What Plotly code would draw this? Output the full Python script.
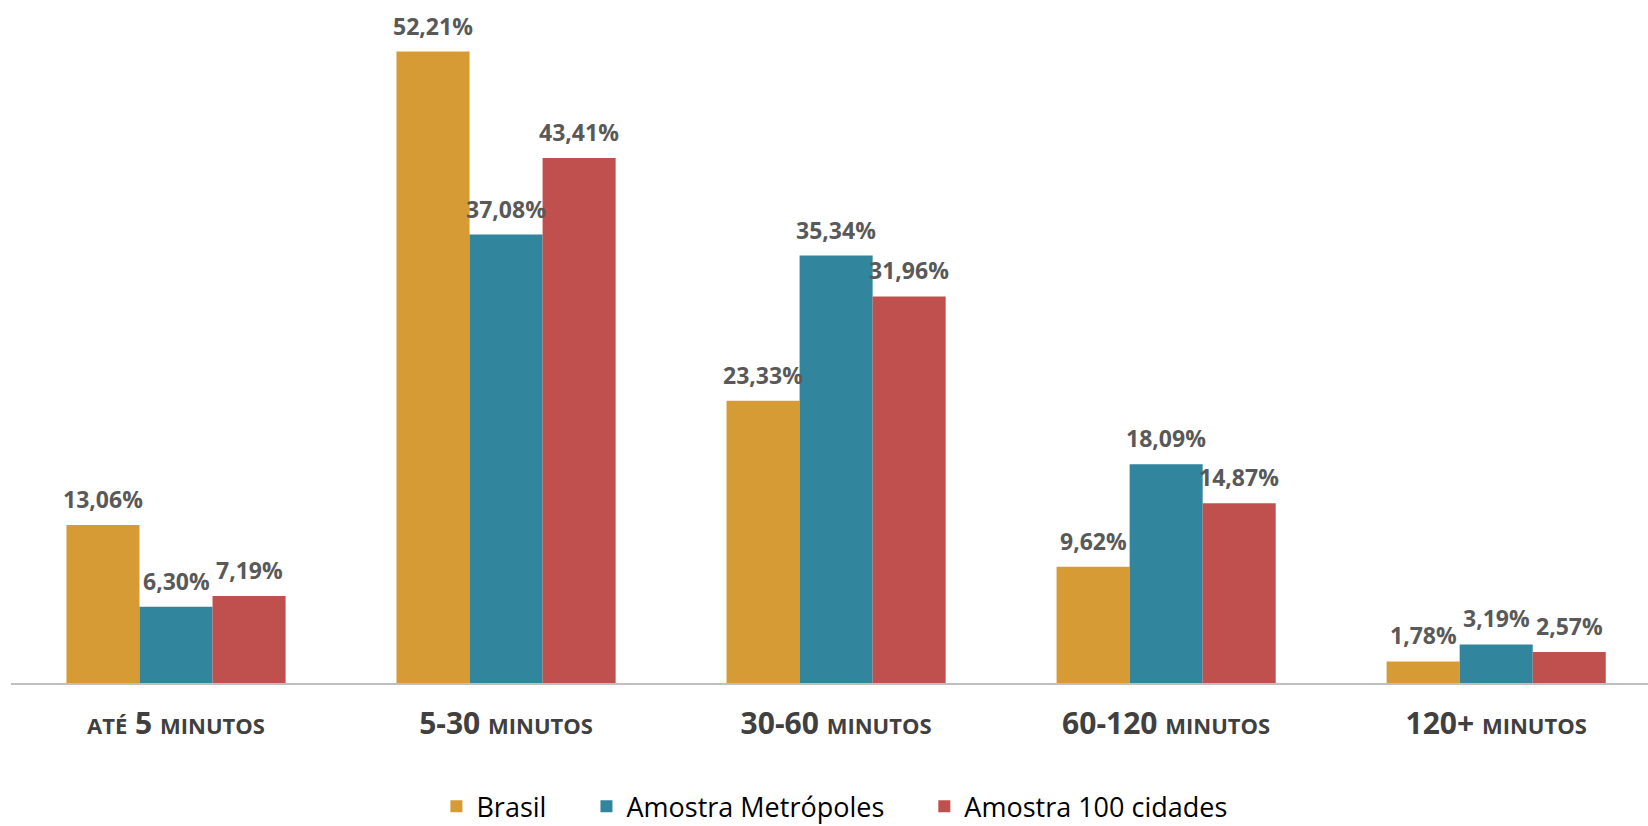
import plotly.graph_objects as go

# data
categories = ["ATÉ 5 MINUTOS", "5-30 MINUTOS", "30-60 MINUTOS", "60-120 MINUTOS", "120+ MINUTOS"]
tick_labels = [
    "<b><span style='font-size:22px'>ATÉ</span> 5 <span style='font-size:22px'>MINUTOS</span></b>",
    "<b>5-30 <span style='font-size:22px'>MINUTOS</span></b>",
    "<b>30-60 <span style='font-size:22px'>MINUTOS</span></b>",
    "<b>60-120 <span style='font-size:22px'>MINUTOS</span></b>",
    "<b>120+ <span style='font-size:22px'>MINUTOS</span></b>",
]
series_names = ["Brasil", "Amostra Metrópoles", "Amostra 100 cidades"]
brasil = [13.06, 52.21, 23.33, 9.62, 1.78]
metropoles = [6.30, 37.08, 35.34, 18.09, 3.19]
cidades100 = [7.19, 43.41, 31.96, 14.87, 2.57]
colors = ["#D69B35", "#31859C", "#C0504D"]

series = [brasil, metropoles, cidades100]
bar_px = 73  # approx pixel width of one bar, used to put labels over each bar
pad = "&nbsp;" * 5  # extra room between legend entries

fig = go.Figure()
annotations = []
for k, (name, vals, col) in enumerate(zip(series_names, series, colors)):
    fig.add_trace(go.Bar(x=categories, y=vals,
                         name=name + (pad if k < 2 else ""),
                         marker=dict(color=col, line=dict(width=0))))
    for cat, v in zip(categories, vals):
        annotations.append(dict(
            x=cat, y=v, xref="x", yref="y",
            text="<b>" + f"{v:.2f}".replace(".", ",") + "%</b>",
            showarrow=False, yanchor="middle", yshift=26,
            xshift=(k - 1) * bar_px,
            font=dict(family="Open Sans", size=23, color="#595959")))

fig.update_layout(
    width=1648, height=826,
    margin=dict(l=11, r=0, t=0, b=143, autoexpand=False),
    plot_bgcolor="white", paper_bgcolor="white",
    barmode="group", bargap=0.336, bargroupgap=0,
    annotations=annotations,
    showlegend=True,
    legend=dict(orientation="h", x=0.503, xanchor="center", y=-0.181, yanchor="middle",
                font=dict(family="Open Sans", size=27, color="#000000"),
                itemwidth=30, tracegroupgap=0),
    xaxis=dict(tickvals=categories, ticktext=tick_labels, range=[-0.5, 4.46],
               showline=True, linecolor="#BFBFBF", linewidth=2, ticks="",
               ticklabelstandoff=13,
               tickfont=dict(family="Open Sans", size=30, color="#404040")),
    yaxis=dict(range=[0, 56.47], visible=False, showgrid=False, zeroline=False),
)

fig.write_html("out.html", config={"displayModeBar": False},
               post_script="document.body.style.margin='0';")
